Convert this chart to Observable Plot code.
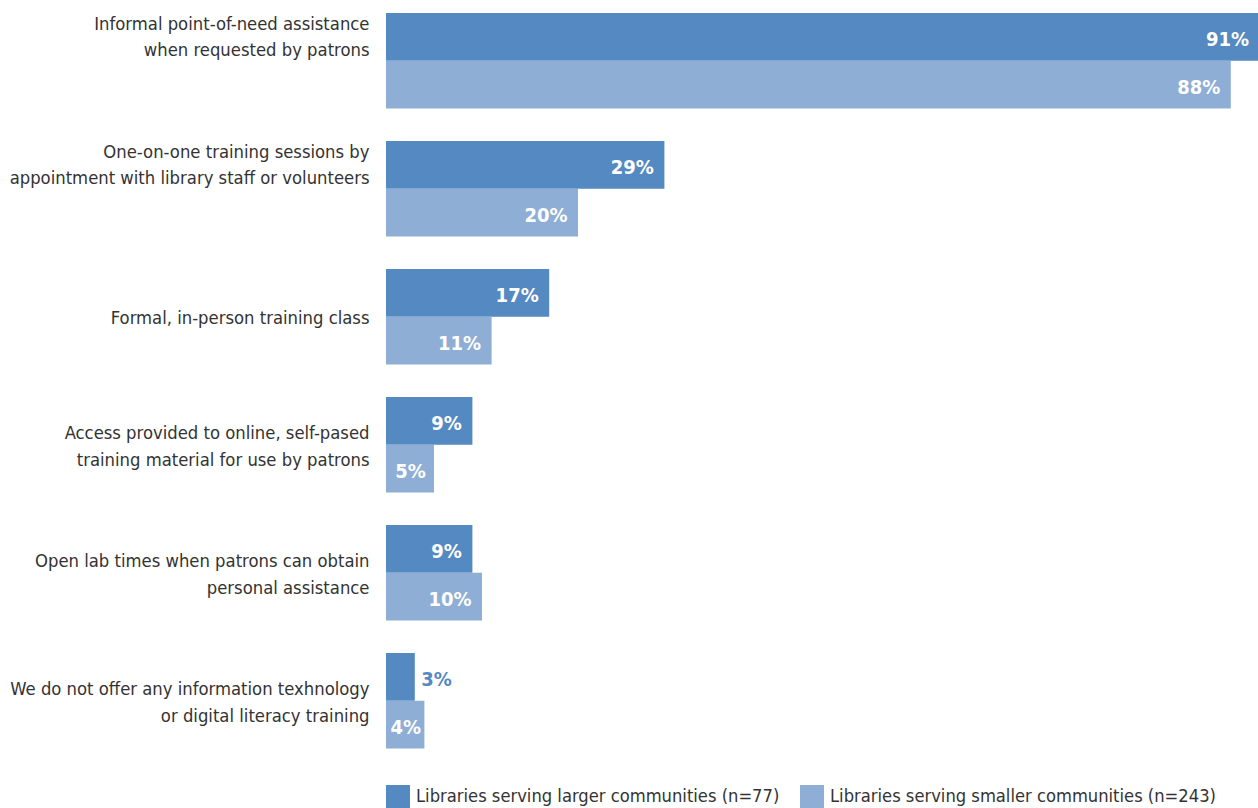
<!DOCTYPE html>
<html>
<head>
<meta charset="utf-8">
<script src="https://cdn.jsdelivr.net/npm/d3@7"></script>
<script src="https://cdn.jsdelivr.net/npm/@observablehq/plot@0.6"></script>
<style>
  html, body { margin: 0; padding: 0; background: #fff; }
  body { width: 1258px; height: 808px; overflow: hidden; font-family: "DejaVu Sans Condensed", "DejaVu Sans", sans-serif; }
  #legend { position: relative; height: 38px; }
  .sw { position: absolute; top: 15px; width: 24px; height: 24px; }
  .lt { position: absolute; top: 14px; font-size: 18.2px; color: #333; white-space: nowrap; line-height: 24px; }
</style>
</head>
<body>
<div id="chart"></div>
<div id="legend"></div>
<script>
const categories = [
  "Informal point-of-need assistance\nwhen requested by patrons",
  "One-on-one training sessions by\nappointment with library staff or volunteers",
  "Formal, in-person training class",
  "Access provided to online, self-pased\ntraining material for use by patrons",
  "Open lab times when patrons can obtain\npersonal assistance",
  "We do not offer any information texhnology\nor digital literacy training"
];
const seriesNames = [
  "Libraries serving larger communities (n=77)",
  "Libraries serving smaller communities (n=243)"
];
const larger  = [91, 29, 17, 9, 9, 3];
const smaller = [88, 20, 11, 5, 10, 4];
const colors = ["#5589c1", "#8eaed6"];

const data = [];
categories.forEach((c, i) => {
  data.push({category: c, series: seriesNames[0], value: larger[i]});
  data.push({category: c, series: seriesNames[1], value: smaller[i]});
});

const font = '"DejaVu Sans Condensed", "DejaVu Sans", sans-serif';
const inside = d => d.value > 5;
const small = d => d.value > 3 && d.value <= 5;
const outside = d => d.value <= 3;
const topAligned = new Set([categories[0], categories[1]]);

const chart = Plot.plot({
  width: 1258,
  height: 770,
  marginTop: 13,
  marginBottom: 21.5,
  marginLeft: 386,
  marginRight: 0,
  style: {fontFamily: font, background: "#fff"},
  x: {domain: [0, 100], range: [386, 1346], axis: null},
  y: {domain: seriesNames, padding: 0, round: false, axis: null},
  fy: {domain: categories, paddingInner: 0.254, paddingOuter: 0, round: false, axis: null},
  color: {domain: seriesNames, range: colors},
  marks: [
    Plot.barX(data, {fy: "category", y: "series", x: "value", fill: "series"}),
    Plot.text(data.filter(inside), {fy: "category", y: "series", x: "value", text: d => d.value + "%",
      textAnchor: "end", dx: -11, dy: 2, fill: "white", fontWeight: "bold", fontSize: 20}),
    Plot.text(data.filter(small), {fy: "category", y: "series", x: d => d.value / 2, text: d => d.value + "%",
      textAnchor: "middle", dy: 2, fill: "white", fontWeight: "bold", fontSize: 20}),
    Plot.text(data.filter(outside), {fy: "category", y: "series", x: "value", text: d => d.value + "%",
      textAnchor: "start", dx: 6, dy: 2, fill: colors[0], fontWeight: "bold", fontSize: 20}),
    // category labels: first two aligned to the first bar, others centred in the group
    Plot.text(data.filter(d => d.series === seriesNames[0] && topAligned.has(d.category)), {
      fy: "category", y: "series", text: "category", frameAnchor: "left", textAnchor: "end",
      dx: -17, dy: -3, fontSize: 18.3, lineHeight: 1.45, fill: "#333"}),
    Plot.text(categories.filter(c => !topAligned.has(c)), {
      fy: d => d, text: d => d, frameAnchor: "left", textAnchor: "end",
      dx: -17, dy: -1.5, fontSize: 18.3, lineHeight: 1.45, fill: "#333"})
  ]
});
document.getElementById("chart").appendChild(chart);

const legend = document.getElementById("legend");
const legendX = [386, 800];
seriesNames.forEach((s, i) => {
  const sw = document.createElement("div");
  sw.className = "sw"; sw.style.left = legendX[i] + "px"; sw.style.background = colors[i];
  const t = document.createElement("div");
  t.className = "lt"; t.style.left = (legendX[i] + 30) + "px"; t.textContent = s;
  legend.appendChild(sw); legend.appendChild(t);
});
</script>
</body>
</html>
